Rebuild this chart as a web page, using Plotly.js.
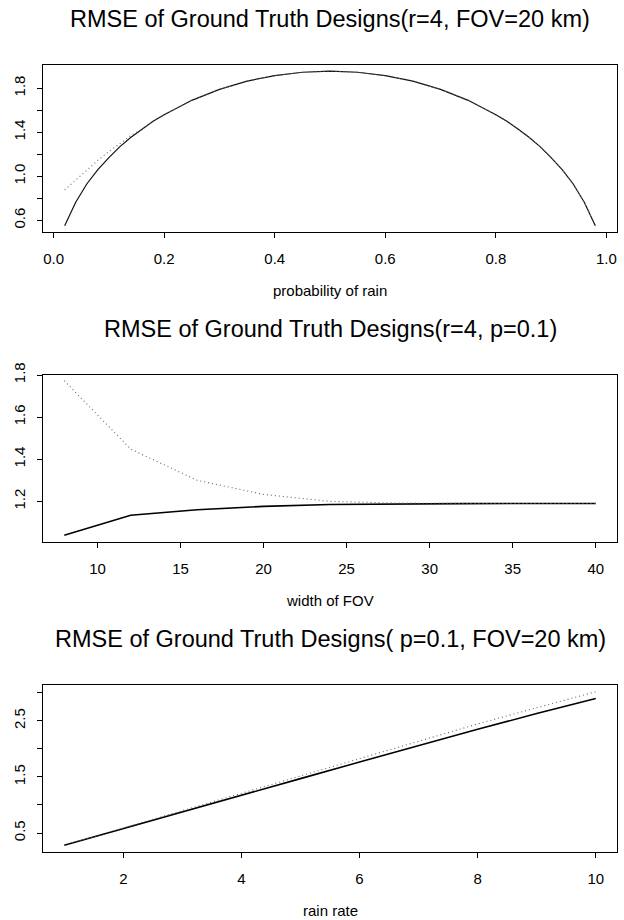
<!DOCTYPE html>
<html>
<head>
<meta charset="utf-8">
<script src="https://cdn.plot.ly/plotly-3.0.1.min.js"></script>
<style>html,body{margin:0;padding:0;background:#fff;}#chart{width:624px;height:920px;}</style>
</head>
<body>
<div id="chart"></div>
<script>
// Panel 1: RMSE vs probability of rain (r=4, FOV=20 km)
const rainProb = [0.02,0.04,0.06,0.08,0.10,0.12,0.14,0.16,0.18,0.20,0.25,0.30,0.35,0.40,0.45,0.50,0.55,0.60,0.65,0.70,0.75,0.80,0.82,0.84,0.86,0.88,0.90,0.92,0.94,0.96,0.98];
const rmseProbSolid = [0.55,0.765,0.93,1.06,1.17,1.27,1.355,1.43,1.50,1.56,1.69,1.79,1.865,1.915,1.945,1.955,1.945,1.915,1.865,1.79,1.69,1.56,1.50,1.43,1.355,1.27,1.17,1.06,0.93,0.765,0.55];
const rmseProbDotted = [0.876,0.965,1.06,1.145,1.225,1.30,1.37,1.43,1.50,1.56,1.69,1.79,1.865,1.915,1.945,1.955,1.945,1.915,1.865,1.79,1.69,1.56,1.50,1.43,1.355,1.27,1.17,1.06,0.93,0.765,0.55];

// Panel 2: RMSE vs width of FOV (r=4, p=0.1)
const fovWidth = [8,12,16,20,24,28,32,36,40];
const rmseFovSolid = [1.039,1.134,1.160,1.176,1.185,1.188,1.189,1.190,1.190];
const rmseFovDotted = [1.773,1.448,1.300,1.233,1.200,1.192,1.190,1.190,1.190];

// Panel 3: RMSE vs rain rate (p=0.1, FOV=20 km)
const rainRate = [1,2,3,4,5,6,7,8,9,10];
const rmseRateSolid = [0.28,0.58,0.88,1.175,1.47,1.765,2.06,2.35,2.63,2.90];
const rmseRateDotted = [0.28,0.59,0.905,1.215,1.525,1.835,2.14,2.445,2.735,3.02];

// Titles and tick labels
const titles = [
  "RMSE of Ground Truth Designs(r=4, FOV=20 km)",
  "RMSE of Ground Truth Designs(r=4, p=0.1)",
  "RMSE of Ground Truth Designs( p=0.1, FOV=20 km)"
];
const xLabels = ["probability of rain","width of FOV","rain rate"];
const y1Ticks = [0.6,0.8,1.0,1.2,1.4,1.6,1.8];
const y1Text = ["0.6","","1.0","","1.4","","1.8"];
const y2Ticks = [1.2,1.4,1.6,1.8];
const y2Text = ["1.2","1.4","1.6","1.8"];
const y3Ticks = [0.5,1.0,1.5,2.0,2.5,3.0];
const y3Text = ["0.5","","1.5","","2.5",""];
const x1Ticks = [0,0.2,0.4,0.6,0.8,1.0];
const x1Text = ["0.0","0.2","0.4","0.6","0.8","1.0"];
const x2Ticks = [10,15,20,25,30,35,40];
const x3Ticks = [2,4,6,8,10];

const H = 920, W = 624;
const boxes = [[65,232],[375,542],[685,852]];
const xDom = [43/W, 617/W];
const dom = b => [1 - b[1]/H, 1 - b[0]/H];

const thinSolid = {color:'#111', width:1.2, dash:'solid'};
const solidLine = {color:'#000', width:1.6, dash:'solid'};
const dotLine = {color:'#666', width:1.1, dash:'1px,3px'};

const traces = [
  {x: rainProb, y: rmseProbSolid, xaxis:'x', yaxis:'y', mode:'lines', line:thinSolid},
  {x: rainProb, y: rmseProbDotted, xaxis:'x', yaxis:'y', mode:'lines', line:dotLine},
  {x: fovWidth, y: rmseFovSolid, xaxis:'x2', yaxis:'y2', mode:'lines', line:solidLine},
  {x: fovWidth, y: rmseFovDotted, xaxis:'x2', yaxis:'y2', mode:'lines', line:dotLine},
  {x: rainRate, y: rmseRateSolid, xaxis:'x3', yaxis:'y3', mode:'lines', line:solidLine},
  {x: rainRate, y: rmseRateDotted, xaxis:'x3', yaxis:'y3', mode:'lines', line:dotLine}
];

const tickFont = {family:'Liberation Sans, Arial, sans-serif', size:15, color:'#000'};
function xAxis(range, vals, text) {
  return {domain:xDom, range:range, tickmode:'array', tickvals:vals, ticktext:text,
    showline:true, mirror:true, linecolor:'#000', linewidth:1, ticks:'outside', ticklen:5,
    tickcolor:'#000', ticklabelstandoff:8, showgrid:false, zeroline:false, tickfont:tickFont, automargin:false};
}
function yAxis(range, domain, vals, text) {
  return {domain:domain, range:range, tickmode:'array', tickvals:vals, ticktext:text, tickangle:-90,
    showline:true, mirror:true, linecolor:'#000', linewidth:1, ticks:'outside', ticklen:5,
    tickcolor:'#000', ticklabelstandoff:6, showgrid:false, zeroline:false, tickfont:tickFont, automargin:false};
}

const annotations = [];
boxes.forEach((b, i) => {
  annotations.push({text: titles[i], xref:'paper', yref:'paper', x:(xDom[0]+xDom[1])/2, y:1-(b[0]-46)/H,
    xanchor:'center', yanchor:'middle', showarrow:false,
    font:{family:'Liberation Sans, Arial, sans-serif', size:23.5, color:'#000'}});
  annotations.push({text: xLabels[i], xref:'paper', yref:'paper', x:(xDom[0]+xDom[1])/2, y:1-(b[1]+58)/H,
    xanchor:'center', yanchor:'middle', showarrow:false,
    font:{family:'Liberation Sans, Arial, sans-serif', size:15, color:'#000'}});
});

const layout = {
  width:W, height:H, margin:{l:0,r:0,t:0,b:0}, showlegend:false,
  paper_bgcolor:'#fff', plot_bgcolor:'#fff',
  font:{family:'Liberation Sans, Arial, sans-serif', color:'#000'},
  xaxis: xAxis([-0.0192,1.0192], x1Ticks, x1Text),
  yaxis: yAxis([0.494,2.011], dom(boxes[0]), y1Ticks, y1Text),
  xaxis2: Object.assign(xAxis([6.72,41.28], x2Ticks, x2Ticks.map(String)), {anchor:'y2'}),
  yaxis2: Object.assign(yAxis([1.007,1.80], dom(boxes[1]), y2Ticks, y2Text), {anchor:'x2'}),
  xaxis3: Object.assign(xAxis([0.64,10.36], x3Ticks, x3Ticks.map(String)), {anchor:'y3'}),
  yaxis3: Object.assign(yAxis([0.161,3.14], dom(boxes[2]), y3Ticks, y3Text), {anchor:'x3'}),
  annotations: annotations
};
layout.xaxis.anchor = 'y';
layout.yaxis.anchor = 'x';

Plotly.newPlot('chart', traces, layout, {staticPlot:true, displayModeBar:false});
</script>
</body>
</html>
